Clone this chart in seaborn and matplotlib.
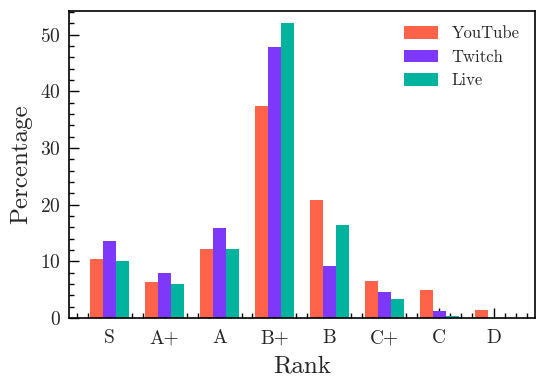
import matplotlib
matplotlib.use("Agg")
import matplotlib.pyplot as plt
import seaborn as sns
import pandas as pd
from matplotlib.ticker import MultipleLocator

ranks = ["S", "A+", "A", "B+", "B", "C+", "C", "D"]
youtube = [10.4, 6.3, 12.2, 37.5, 20.9, 6.5, 4.9, 1.4]
twitch = [13.6, 7.9, 15.9, 47.8, 9.2, 4.6, 1.2, 0.0]
live = [10.1, 6.0, 12.2, 52.1, 16.4, 3.3, 0.3, 0.0]
series = ["YouTube", "Twitch", "Live"]
colors = ["#FF6349", "#7D38FA", "#00B39E"]

rows = []
for name, vals in zip(series, [youtube, twitch, live]):
    for r, v in zip(ranks, vals):
        rows.append({"Rank": r, "Percentage": v, "Source": name})
df = pd.DataFrame(rows)

sns.set_style("ticks")
plt.rcParams["font.family"] = ["cmr10", "DejaVu Serif"]
plt.rcParams["axes.formatter.use_mathtext"] = True
plt.rcParams["mathtext.fontset"] = "cm"

fig = plt.figure(figsize=(5.44, 3.87), dpi=100)
ax = fig.add_axes([0.127, 0.178, 0.856, 0.794])

sns.barplot(data=df, x="Rank", y="Percentage", hue="Source", order=ranks,
            hue_order=series, palette=colors, width=0.71, saturation=1,
            ax=ax, errorbar=None, linewidth=0)

ax.set_xlim(-0.74, 7.74)
ax.set_ylim(0, 54.2)
ax.yaxis.set_major_locator(MultipleLocator(10))
ax.yaxis.set_minor_locator(MultipleLocator(2))
ax.xaxis.set_minor_locator(MultipleLocator(0.2))
ax.tick_params(which="both", direction="in", top=False, right=False, labelsize=14, width=1, color="black")
ax.tick_params(which="major", length=7)
ax.tick_params(axis="x", which="major", pad=8)
ax.tick_params(axis="y", which="major", pad=6)
ax.tick_params(which="minor", length=3.5)
for s in ax.spines.values():
    s.set_linewidth(1.2)
    s.set_color("black")
ax.set_xlabel("Rank", fontsize=18, labelpad=6)
ax.set_ylabel("Percentage", fontsize=18, labelpad=6)

handles, labels = ax.get_legend_handles_labels()
ax.legend(handles, labels, loc="upper right", frameon=False, fontsize=12,
          handlelength=2.05, handleheight=0.78, handletextpad=0.8,
          borderaxespad=0.5)

fig.savefig("out.png", dpi=100)
